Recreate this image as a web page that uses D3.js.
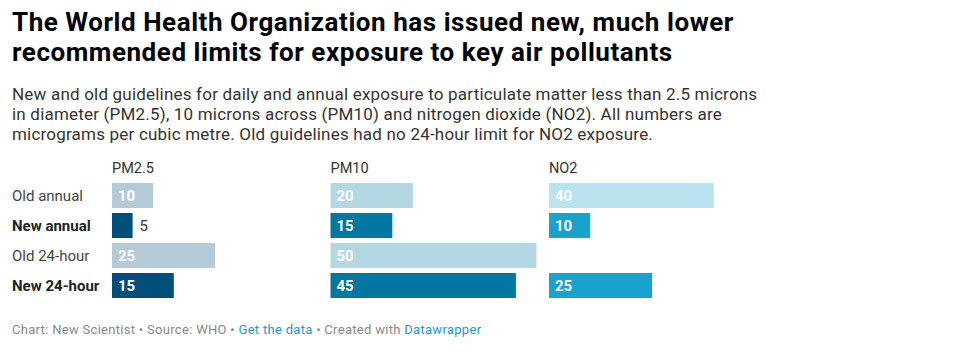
<!DOCTYPE html>
<html>
<head>
<meta charset="utf-8">
<script src="https://cdn.jsdelivr.net/npm/d3@7"></script>
<style>
  body { margin: 0; background: #fff; font-family: Roboto, sans-serif; }
  svg text { font-family: Roboto, sans-serif; }
</style>
</head>
<body>
<div id="chart"></div>
<script>
(function () {
  // --- data ---------------------------------------------------------------
  const pollutants = ["PM2.5", "PM10", "NO2"];
  const guidelines = ["Old annual", "New annual", "Old 24-hour", "New 24-hour"];
  const pm25Values = [10, 5, 25, 15];
  const pm10Values = [20, 15, 50, 45];
  const no2Values = [40, 10, null, 25];
  // ------------------------------------------------------------------------

  const titleLines = [
    "The World Health Organization has issued new, much lower",
    "recommended limits for exposure to key air pollutants"
  ];
  const subtitleLines = [
    "New and old guidelines for daily and annual exposure to particulate matter less than 2.5 microns",
    "in diameter (PM2.5), 10 microns across (PM10) and nitrogen dioxide (NO2). All numbers are",
    "micrograms per cubic metre. Old guidelines had no 24-hour limit for NO2 exposure."
  ];

  const valuesBy = { "PM2.5": pm25Values, "PM10": pm10Values, "NO2": no2Values };
  // old / new colour per pollutant
  const colors = {
    "PM2.5": { old: "#b4cbd7", new: "#02507a" },
    "PM10":  { old: "#b4d8e3", new: "#0277a1" },
    "NO2":   { old: "#b8e3ef", new: "#18a2cd" }
  };

  const width = 975, height = 353;
  const svg = d3.select("#chart").append("svg")
    .attr("width", width)
    .attr("height", height);

  // title
  svg.append("text")
    .attr("x", 12).attr("y", 31)
    .style("font-size", "26px")
    .style("letter-spacing", "0.55px")
    .style("font-weight", "bold")
    .style("fill", "#000")
    .selectAll("tspan")
    .data(titleLines)
    .join("tspan")
      .attr("x", 12)
      .attr("dy", (d, i) => i ? 30 : 0)
      .text(d => d);

  // subtitle
  svg.append("text")
    .attr("x", 12).attr("y", 100)
    .style("font-size", "17px")
    .style("letter-spacing", "0.2px")
    .style("fill", "#333")
    .selectAll("tspan")
    .data(subtitleLines)
    .join("tspan")
      .attr("x", 12)
      .attr("dy", (d, i) => i ? 20 : 0)
      .text(d => d);

  // scales
  const panelX = d3.scaleBand().domain(pollutants).range([112, 112 + 3 * 218.5]);
  const y = d3.scaleBand().domain(guidelines)
    .range([183, 183 + 4 * 30 - 5])
    .paddingInner(5 / 30)
    .paddingOuter(0);
  const x = d3.scaleLinear().domain([0, 50]).range([0, 206]);

  // row labels
  svg.append("g")
    .selectAll("text")
    .data(guidelines)
    .join("text")
      .attr("x", 12)
      .attr("y", d => y(d) + y.bandwidth() / 2)
      .attr("dy", "0.35em")
      .style("font-size", "15px")
      .style("font-weight", d => d.startsWith("New") ? "bold" : "normal")
      .style("fill", d => d.startsWith("New") ? "#222" : "#444")
      .text(d => d);

  const panels = svg.append("g")
    .selectAll("g")
    .data(pollutants)
    .join("g")
      .attr("transform", d => `translate(${panelX(d)},0)`);

  // panel headers
  panels.append("text")
    .attr("x", 0)
    .attr("y", 173)
    .style("font-size", "14.5px")
    .style("fill", "#333")
    .text(d => d);

  panels.each(function (p) {
    const g = d3.select(this);
    const rows = guidelines.map((gl, i) => ({ gl, value: valuesBy[p][i] }))
      .filter(d => d.value != null);

    g.selectAll("rect")
      .data(rows)
      .join("rect")
        .attr("x", 0)
        .attr("y", d => y(d.gl))
        .attr("width", d => x(d.value))
        .attr("height", y.bandwidth())
        .attr("fill", d => d.gl.startsWith("New") ? colors[p].new : colors[p].old);

    g.selectAll("text.val")
      .data(rows)
      .join("text")
        .attr("class", "val")
        .attr("y", d => y(d.gl) + y.bandwidth() / 2)
        .attr("dy", "0.35em")
        .style("font-size", "15px")
        .each(function (d) {
          const inside = x(d.value) > 30;
          d3.select(this)
            .attr("x", inside ? 6 : x(d.value) + 7)
            .style("font-weight", inside ? "bold" : "normal")
            .style("fill", inside ? "#fff" : "#333")
            .text(d.value);
        });
  });

  // footer
  const footer = svg.append("text")
    .attr("x", 12).attr("y", 334)
    .style("font-size", "13px")
    .style("letter-spacing", "0.3px")
    .style("fill", "#888");
  [
    ["Chart: New Scientist • Source: WHO • ", "#888"],
    ["Get the data", "#1d9ac9"],
    [" • Created with ", "#888"],
    ["Datawrapper", "#1d9ac9"]
  ].forEach(([t, c]) => footer.append("tspan").style("fill", c).text(t));
})();
</script>
</body>
</html>
